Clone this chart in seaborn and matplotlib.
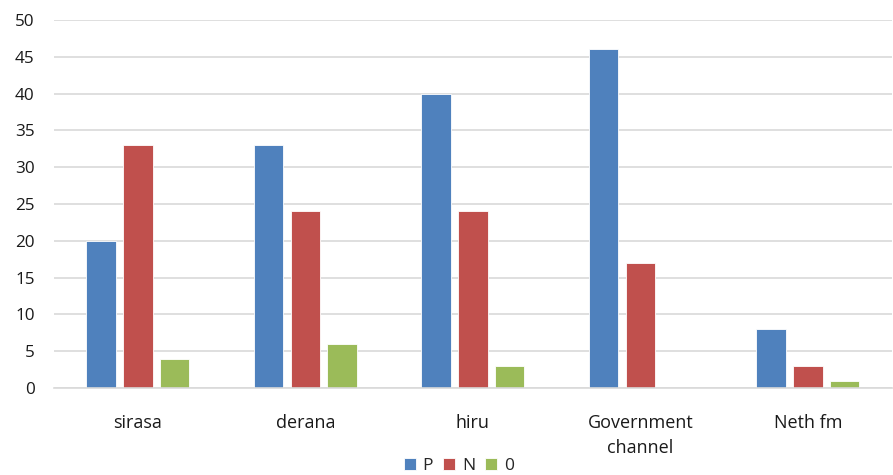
import matplotlib
matplotlib.use("Agg")
import matplotlib.pyplot as plt
import seaborn as sns
import pandas as pd

categories = ["sirasa", "derana", "hiru", "Government\nchannel", "Neth fm"]
series_names = ["P", "N", "0"]
p_values = [20, 33, 40, 46, 8]
n_values = [33, 24, 24, 17, 3]
o_values = [4, 6, 3, 0, 1]
y_ticks = [0, 5, 10, 15, 20, 25, 30, 35, 40, 45, 50]
colors = ["#4F81BD", "#C0504D", "#9BBB59"]

rows = []
for name, vals in zip(series_names, [p_values, n_values, o_values]):
    for c, v in zip(categories, vals):
        rows.append({"cat": c, "series": name, "value": v})
df = pd.DataFrame(rows)

sns.set_theme(style="white")
plt.rcParams["font.family"] = ["Open Sans", "DejaVu Sans"]

fig = plt.figure(figsize=(8.93, 4.75), dpi=100)
ax = fig.add_axes([0.0605, 0.183, 0.938, 0.775])

sns.barplot(data=df, x="cat", y="value", hue="series", order=categories,
            hue_order=series_names, palette=colors, width=0.66, gap=0.2,
            saturation=1, edgecolor="white", linewidth=0.6, ax=ax)

ax.set_ylim(0, 50)
ax.set_xlim(-0.5, 4.5)
ax.set_yticks(y_ticks)
ax.set_yticklabels([str(t) for t in y_ticks], fontsize=12.3, color="#1a1a1a")
ax.tick_params(axis="x", labelsize=13, colors="#1a1a1a", pad=19, length=0)
ax.tick_params(axis="y", length=0, pad=14)
for lbl in ax.get_xticklabels():
    lbl.set_linespacing(1.45)
ax.set_xlabel("")
ax.set_ylabel("")
ax.yaxis.grid(True, color="#d9d9d9", linewidth=1.2)
ax.set_axisbelow(True)
for s in ["top", "right", "left"]:
    ax.spines[s].set_visible(False)
ax.spines["bottom"].set_color("#d9d9d9")
ax.spines["bottom"].set_linewidth(1.2)

ax.legend(loc="upper center", bbox_to_anchor=(0.483, -0.163), ncol=3, frameon=False,
          fontsize=12.5, handlelength=0.7, handleheight=0.7, columnspacing=0.55,
          handletextpad=0.4, borderpad=0.05)

fig.savefig("out.png", dpi=100)
